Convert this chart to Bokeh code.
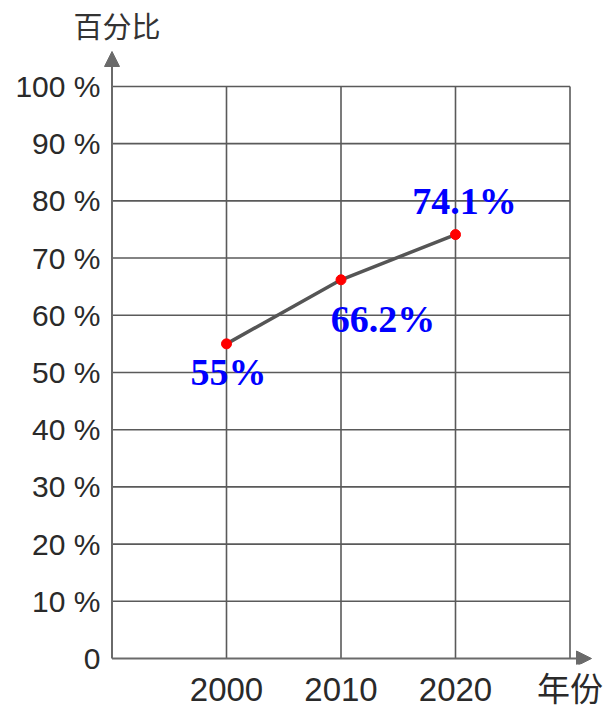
from bokeh.plotting import figure
from bokeh.models import FixedTicker, Range1d, Arrow, NormalHead, ColumnDataSource, Title
from bokeh.embed import file_html
from bokeh.resources import INLINE
from bokeh.core.properties import value

# ---- data ----
years = [2000, 2010, 2020]
percents = [55, 66.2, 74.1]
point_labels = ["55%", "66.2%", "74.1%"]
y_ticks = [0, 10, 20, 30, 40, 50, 60, 70, 80, 90, 100]
y_tick_labels = ["0", "10 %", "20 %", "30 %", "40 %", "50 %", "60 %", "70 %", "80 %", "90 %", "100 %"]
x_ticks = [2000, 2010, 2020]
x_tick_labels = ["2000", "2010", "2020"]
grid_years = [2000, 2010, 2020, 2030]
x_start, x_end = 1990, 2030
y_title = "百分比"
x_title = "年份"

# ---- styles / layout ----
label_dx = [2, 42, 9]
label_dy = [28, 39, -34]

W, H = 603, 710
LEFT, BOTTOM, TOP = 100, 46, 46
frame_w = W - LEFT
frame_top, frame_bottom = TOP, H - BOTTOM
axis_x_px, axis_y_px, y100_px = 111.5, 658, 85
px_per_year = 11.45
px_per_pct = (axis_y_px - y100_px) / 100

x0 = x_start - (axis_x_px - LEFT) / px_per_year
x_range = Range1d(x0, x0 + frame_w / px_per_year)
y_range = Range1d(-(frame_bottom - axis_y_px) / px_per_pct, 100 + (y100_px - frame_top) / px_per_pct)

p = figure(width=W, height=H, x_range=x_range, y_range=y_range,
           output_backend="svg", toolbar_location=None,
           min_border_left=LEFT, min_border_bottom=BOTTOM,
           min_border_top=TOP, min_border_right=0)
p.outline_line_color = None
p.xgrid.visible = False
p.ygrid.visible = False
p.background_fill_color = "white"
p.border_fill_color = "white"

t = Title(text=y_title, align="left", offset=-27, standoff=3,
          text_font="Noto Sans CJK SC", text_font_size="29px",
          text_font_style="normal", text_color="#333333")
p.add_layout(t, "above")

for ax in (p.xaxis[0], p.yaxis[0]):
    ax.axis_line_color = None
    ax.major_tick_line_color = None
    ax.minor_tick_line_color = None
    ax.major_tick_out = 0
    ax.major_tick_in = 0
    ax.major_label_text_color = "#2a2a2a"

p.xaxis.ticker = FixedTicker(ticks=x_ticks + [x_end])
p.xaxis.major_label_overrides = dict(zip(x_ticks + [x_end], x_tick_labels + [x_title]))
p.xaxis.major_label_text_font = "Liberation Sans, Noto Sans CJK SC"
p.xaxis.major_label_text_font_size = "33px"
p.xaxis.major_label_standoff = 6

p.yaxis.ticker = FixedTicker(ticks=y_ticks)
p.yaxis.major_label_overrides = dict(zip(y_ticks, y_tick_labels))
p.yaxis.major_label_text_font = "Liberation Sans"
p.yaxis.major_label_text_font_size = "30px"
p.yaxis.major_label_standoff = 0

grid_color = "#5a5a5a"
hy = [v for v in y_ticks if v > 0]
p.segment(x0=[x_start] * len(hy), y0=hy, x1=[x_end] * len(hy), y1=hy,
          line_color=grid_color, line_width=1.6)
p.segment(x0=grid_years, y0=[0] * len(grid_years), x1=grid_years, y1=[100] * len(grid_years),
          line_color=grid_color, line_width=1.6)

axis_color = "#6a6a6a"
p.add_layout(Arrow(x_start=x_start, y_start=0, x_end=x_start + (591 - axis_x_px) / px_per_year, y_end=0,
                   line_color=axis_color, line_width=2,
                   end=NormalHead(size=15, fill_color=axis_color, line_color=axis_color)))
p.add_layout(Arrow(x_start=x_start, y_start=0, x_end=x_start, y_end=100 + 35 / px_per_pct,
                   line_color=axis_color, line_width=2,
                   end=NormalHead(size=15, fill_color=axis_color, line_color=axis_color)))

src = ColumnDataSource(dict(x=years, y=percents, lab=point_labels, dx=label_dx, dy=label_dy))
p.line("x", "y", source=src, line_color="#555555", line_width=3.5)
p.scatter("x", "y", source=src, size=10, fill_color="#ff0000", line_color="#ff0000")
p.text("x", "y", text="lab", source=src, x_offset="dx", y_offset="dy",
       text_font=value("Liberation Serif"), text_font_style="bold",
       text_font_size="38px", text_color="#0000ff",
       text_align="center", text_baseline="alphabetic")

open("out.html", "w").write(file_html(p, INLINE))
